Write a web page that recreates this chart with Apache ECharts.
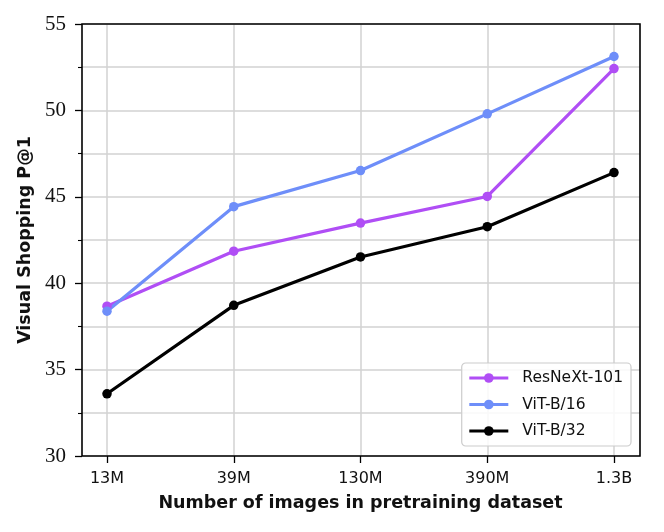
<!DOCTYPE html>
<html>

<head>
    <meta charset="utf-8">
    <title>Visual Shopping P@1</title>
    <style>
        html, body { margin: 0; padding: 0; background: #fff; }
    </style>
</head>

<body>
    <div id="main" style="width: 664px;height:532px;"></div>

    <script src="https://cdn.jsdelivr.net/npm/echarts@6/dist/echarts.min.js"></script>
    <script>
        // data
        var sizes = ['13M', '39M', '130M', '390M', '1.3B'];
        var resnext101 = [38.67, 41.85, 43.48, 45.02, 52.42];
        var vitB16 = [38.38, 44.43, 46.52, 49.8, 53.12];
        var vitB32 = [33.6, 38.72, 41.52, 43.27, 46.4];
        var yTicks = [30, 35, 40, 45, 50, 55];

        var gridColor = '#d2d2d2';
        var myChart = echarts.init(document.getElementById('main'));

        function lineSeries(name, data, color) {
            return {
                name: name,
                type: 'line',
                xAxisIndex: 1,
                yAxisIndex: 1,
                data: data,
                symbol: 'circle',
                symbolSize: 9.5,
                lineStyle: { width: 3.2, color: color },
                itemStyle: { color: color },
                emphasis: { disabled: true },
                animation: false
            };
        }

        var option = {
            backgroundColor: '#fff',
            animation: false,
            // grid 0 = the box with horizontal grid, grid 1 = the data area
            grid: [
                { left: 82, top: 24, width: 558, height: 432, show: true, z: 10,
                  borderColor: '#000', borderWidth: 1.6, backgroundColor: 'transparent' },
                { left: 107, top: 24, width: 507, height: 432 }
            ],
            xAxis: [
                { gridIndex: 0, type: 'value', min: 0, max: 1, show: false },
                {
                    gridIndex: 1,
                    type: 'category',
                    data: sizes,
                    boundaryGap: false,
                    axisLine: { show: false },
                    axisTick: { show: true, length: 7, alignWithLabel: true,
                                lineStyle: { color: '#000', width: 1.3 } },
                    axisLabel: { margin: 15, color: '#111', fontSize: 16,
                                 fontFamily: 'DejaVu Sans', interval: 0 },
                    splitLine: { show: true, lineStyle: { color: gridColor, width: 1.5 } },
                    name: 'Number of images in pretraining dataset',
                    nameLocation: 'middle',
                    nameGap: 38,
                    nameTextStyle: { fontSize: 17.5, fontWeight: 'bold',
                                     fontFamily: 'DejaVu Sans', color: '#111' }
                }
            ],
            yAxis: [
                {
                    gridIndex: 0,
                    type: 'value',
                    min: yTicks[0],
                    max: yTicks[yTicks.length - 1],
                    interval: yTicks[1] - yTicks[0],
                    axisLine: { show: false },
                    axisTick: { show: true, length: 7, lineStyle: { color: '#000', width: 1.3 } },
                    minorTick: { show: true, splitNumber: 2, length: 4,
                                 lineStyle: { color: '#000', width: 1.1 } },
                    minorSplitLine: { show: true, lineStyle: { color: gridColor, width: 1.5 } },
                    splitLine: { show: true, lineStyle: { color: gridColor, width: 1.5 } },
                    axisLabel: { margin: 16, color: '#111', fontSize: 21,
                                 fontFamily: 'Liberation Serif' },
                    name: 'Visual Shopping P@1',
                    nameLocation: 'middle',
                    nameGap: 48,
                    nameTextStyle: { fontSize: 17.5, fontWeight: 'bold',
                                     fontFamily: 'DejaVu Sans', color: '#111' }
                },
                { gridIndex: 1, type: 'value', min: yTicks[0],
                  max: yTicks[yTicks.length - 1], show: false }
            ],
            legend: {
                orient: 'vertical',
                right: 33,
                top: 363,
                backgroundColor: 'rgba(255,255,255,0.85)',
                borderColor: '#cccccc',
                borderWidth: 1.2,
                borderRadius: 4,
                padding: [6, 8, 6, 6],
                itemWidth: 39,
                itemHeight: 12,
                itemGap: 8.5,
                lineStyle: { width: 3.2 },
                textStyle: { fontSize: 15.5, fontFamily: 'DejaVu Sans', color: '#111',
                             lineHeight: 18, padding: [0, 0, 0, 9] },
                data: ['ResNeXt-101', 'ViT-B/16', 'ViT-B/32']
            },
            series: [
                lineSeries('ResNeXt-101', resnext101, '#b04ef5'),
                lineSeries('ViT-B/16', vitB16, '#6e8ef9'),
                lineSeries('ViT-B/32', vitB32, '#000000')
            ]
        };

        myChart.setOption(option);
    </script>
</body>

</html>
